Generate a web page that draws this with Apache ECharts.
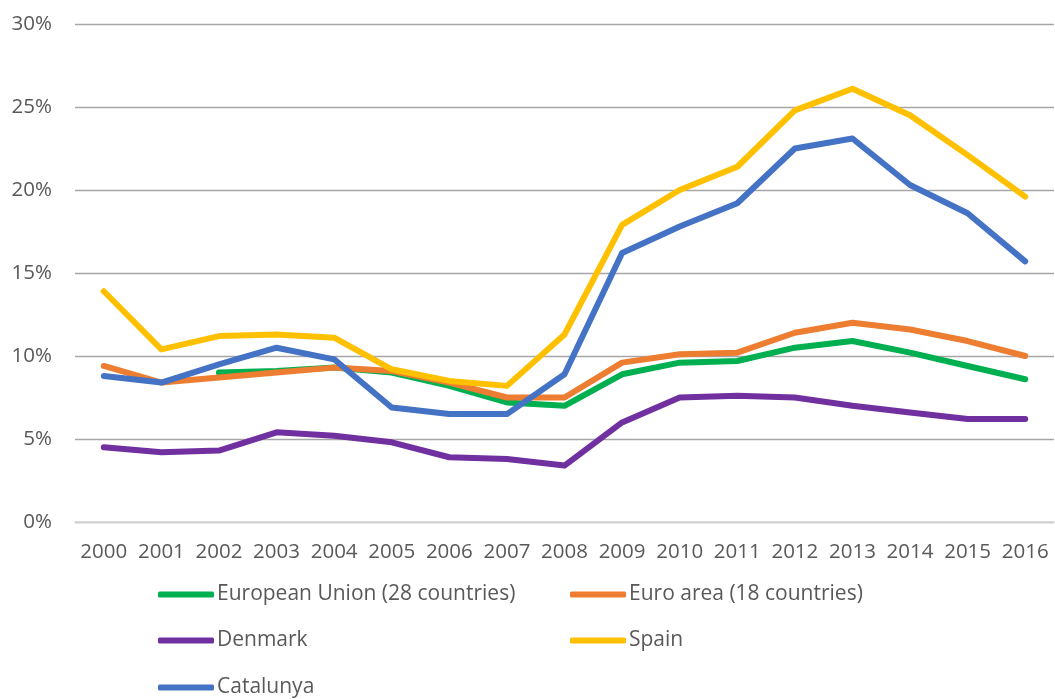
<!DOCTYPE html>
<html>
<head>
<meta charset="utf-8">
<script src="https://cdn.jsdelivr.net/npm/echarts@6/dist/echarts.min.js"></script>
<style>html,body{margin:0;padding:0;background:#fff}#c{width:1055px;height:699px}</style>
</head>
<body>
<div id="c"></div>
<script>
var years = ['2000','2001','2002','2003','2004','2005','2006','2007','2008','2009','2010','2011','2012','2013','2014','2015','2016'];
var yTicks = [0, 5, 10, 15, 20, 25, 30];
var euValues = [null, null, 9.0, 9.1, 9.3, 9.0, 8.2, 7.2, 7.0, 8.9, 9.6, 9.7, 10.5, 10.9, 10.2, 9.4, 8.6];
var euroValues = [9.4, 8.4, 8.7, 9.0, 9.3, 9.1, 8.4, 7.5, 7.5, 9.6, 10.1, 10.2, 11.4, 12.0, 11.6, 10.9, 10.0];
var denmarkValues = [4.5, 4.2, 4.3, 5.4, 5.2, 4.8, 3.9, 3.8, 3.4, 6.0, 7.5, 7.6, 7.5, 7.0, 6.6, 6.2, 6.2];
var spainValues = [13.9, 10.4, 11.2, 11.3, 11.1, 9.2, 8.5, 8.2, 11.3, 17.9, 20.0, 21.4, 24.8, 26.1, 24.5, 22.1, 19.6];
var catalunyaValues = [8.8, 8.4, 9.5, 10.5, 9.8, 6.9, 6.5, 6.5, 8.9, 16.2, 17.8, 19.2, 22.5, 23.1, 20.3, 18.6, 15.7];

var names = ['European Union (28 countries)', 'Euro area (18 countries)', 'Denmark', 'Spain', 'Catalunya'];
var colors = ['#00b050', '#ed7d31', '#7030a0', '#ffc000', '#4472c4'];
var values = [euValues, euroValues, denmarkValues, spainValues, catalunyaValues];

var font = '"Open Sans", "DejaVu Sans", sans-serif';
var legendPos = [[158, 584], [570, 584], [158, 630], [570, 630], [158, 677]];

var chart = echarts.init(document.getElementById('c'));
chart.setOption({
  animation: false,
  grid: {left: 75, right: 1, top: 24, bottom: 177, containLabel: false},
  xAxis: {
    type: 'category',
    data: years,
    boundaryGap: true,
    axisLine: {show: true, lineStyle: {color: '#d9d9d9', width: 1.5}},
    axisTick: {show: false},
    axisLabel: {color: '#595959', fontSize: 20.5, fontFamily: font, margin: 20, interval: 0}
  },
  yAxis: {
    type: 'value',
    min: yTicks[0],
    max: yTicks[yTicks.length - 1],
    interval: 5,
    axisLine: {show: false},
    axisTick: {show: false},
    splitLine: {lineStyle: {color: '#a6a6a6', width: 1.4}},
    axisLabel: {color: '#595959', fontSize: 20.5, fontFamily: font, margin: 23,
      formatter: function (v) { return v + '%'; }}
  },
  legend: names.map(function (n, i) {
    return {
      data: [n],
      left: legendPos[i][0],
      top: legendPos[i][1],
      padding: 0,
      icon: 'roundRect',
      itemWidth: 56,
      itemHeight: 6,
      textStyle: {color: '#595959', fontSize: 21, fontFamily: font, padding: [0, 0, 0, -2]}
    };
  }),
  series: names.map(function (n, i) {
    return {
      name: n,
      type: 'line',
      data: values[i],
      showSymbol: false,
      symbol: 'none',
      connectNulls: false,
      color: colors[i],
      lineStyle: {color: colors[i], width: 6, cap: 'round', join: 'round'},
      itemStyle: {color: colors[i]}
    };
  })
});
</script>
</body>
</html>
